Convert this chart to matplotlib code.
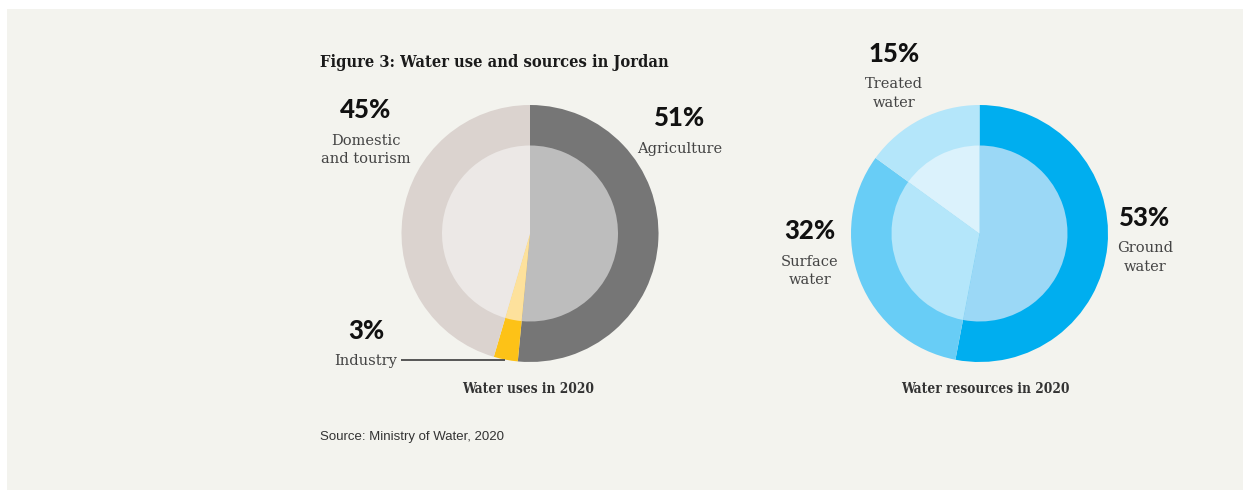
import matplotlib
matplotlib.use("Agg")
import matplotlib.pyplot as plt
from matplotlib.patches import Rectangle

# ---- data ----
title = "Figure 3: Water use and sources in Jordan"
source = "Source: Ministry of Water, 2020"

uses_title = "Water uses in 2020"
uses_labels = ["Agriculture", "Industry", "Domestic\nand tourism"]
uses_values = [51, 3, 45]
uses_outer_colors = ["#767676", "#fdc217", "#dbd3cf"]
uses_inner_colors = ["#bdbdbd", "#fde19c", "#ece8e6"]

res_title = "Water resources in 2020"
res_labels = ["Ground\nwater", "Surface\nwater", "Treated\nwater"]
res_values = [53, 32, 15]
res_outer_colors = ["#00aeef", "#68cdf6", "#b4e6fa"]
res_inner_colors = ["#9bd8f6", "#b4e6fa", "#dbf2fc"]

W, H = 1243, 490
BG = "#f3f3ee"

fig = plt.figure(figsize=(W / 100, H / 100), dpi=100, facecolor="white")
ax = fig.add_axes([0, 0, 1, 1])


def Y(p):
    return H - p


# panel background
ax.add_patch(Rectangle((7, 0), W - 7, H - 9, facecolor=BG, edgecolor="none", zorder=0))

R_OUT, R_IN = 128.5, 88


def donut(cx, cy, values, outer, inner):
    ax.pie(values, radius=R_OUT, center=(cx, Y(cy)), colors=outer, startangle=90,
           counterclock=False, wedgeprops=dict(linewidth=0), frame=True)
    ax.pie(values, radius=R_IN, center=(cx, Y(cy)), colors=inner, startangle=90,
           counterclock=False, wedgeprops=dict(linewidth=0), frame=True)


donut(530, 233.5, uses_values, uses_outer_colors, uses_inner_colors)
donut(979.5, 233.5, res_values, res_outer_colors, res_inner_colors)

ax.set_xlim(0, W)
ax.set_ylim(0, H)
ax.set_aspect("equal")
ax.axis("off")

PCT = dict(family="Lato", fontweight="black", fontsize=18.5, color="#111111",
           ha="center", va="baseline")
LAB = dict(family="DejaVu Serif", fontsize=10.5, color="#444444",
           ha="center", va="baseline")
LINE = 18.4


def label(x, pct_base, lab_base, value, text):
    ax.text(x, Y(pct_base), f"{value}%", **PCT)
    for i, line in enumerate(text.split("\n")):
        ax.text(x, Y(lab_base + i * LINE), line, **LAB)


# left chart labels
label(680, 125.7, 153.0, uses_values[0], uses_labels[0])
label(366, 118.3, 145.0, uses_values[2], uses_labels[2])
ax.text(366, Y(339.3), f"{uses_values[1]}%", **PCT)
d = dict(LAB); d["ha"] = "right"
ax.text(397, Y(365), uses_labels[1], **d)
ax.plot([401, 505], [Y(360), Y(360)], color="#555555", lw=1.4, solid_capstyle="butt")

# right chart labels
label(1145, 226, 252.3, res_values[0], res_labels[0])
label(810, 239.5, 265.5, res_values[1], res_labels[1])
label(894, 62.3, 88.3, res_values[2], res_labels[2])

# titles
ax.text(320, Y(67.3), title, family="DejaVu Serif", fontweight="bold",
        fontstretch="condensed", fontsize=11.8, color="#1a1a1a", ha="left", va="baseline")
SUB = dict(family="DejaVu Serif", fontweight="bold", fontstretch="condensed",
           fontsize=9.8, color="#333333", ha="center", va="baseline")
ax.text(528.5, Y(392.7), uses_title, **SUB)
ax.text(985.5, Y(392.7), res_title, **SUB)

ax.text(320, Y(439.7), source, family="Liberation Sans", fontsize=9.5,
        color="#333333", ha="left", va="baseline")

fig.savefig("out.png", dpi=100, facecolor="white")
